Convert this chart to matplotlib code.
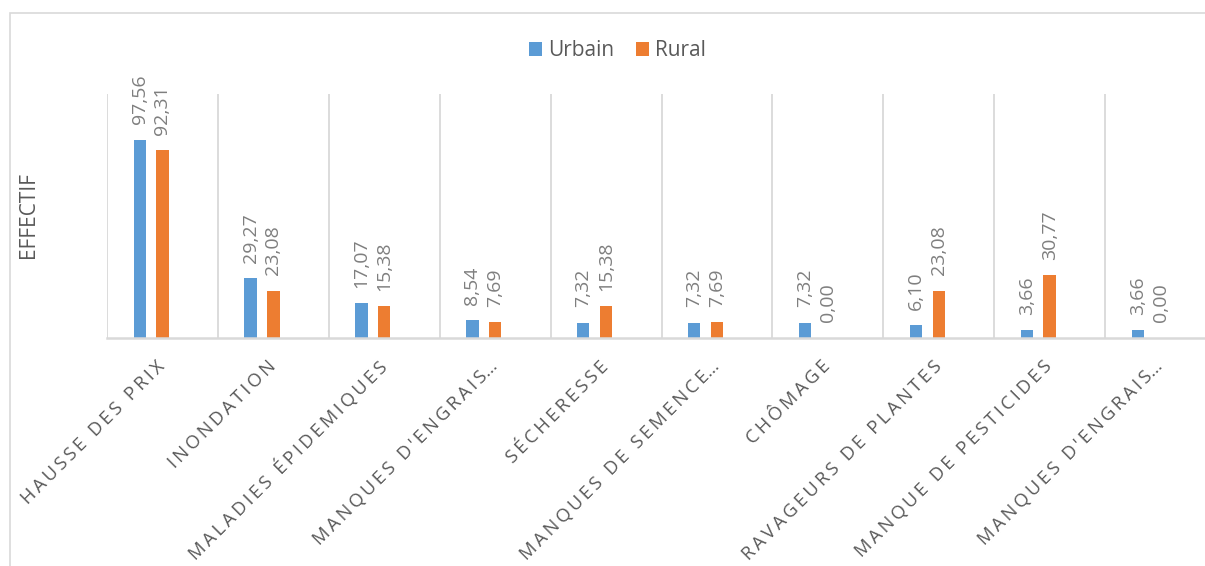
import matplotlib
matplotlib.use("Agg")
import matplotlib.pyplot as plt
from matplotlib.patches import Patch, Rectangle
import numpy as np

plt.rcParams['font.family'] = ['Open Sans', 'DejaVu Sans']

categories = ["HAUSSE DES PRIX", "INONDATION", "MALADIES ÉPIDEMIQUES",
              "MANQUES D'ENGRAIS…", "SÉCHERESSE", "MANQUES DE SEMENCE…",
              "CHÔMAGE", "RAVAGEURS DE PLANTES", "MANQUE DE PESTICIDES",
              "MANQUES D'ENGRAIS…"]
urbain = [97.56, 29.27, 17.07, 8.54, 7.32, 7.32, 7.32, 6.10, 3.66, 3.66]
rural = [92.31, 23.08, 15.38, 7.69, 15.38, 7.69, 0.00, 23.08, 30.77, 0.00]
series_names = ["Urbain", "Rural"]
colors = ["#5B9BD5", "#ED7D31"]

W, H = 1205, 566
fig = plt.figure(figsize=(W / 100, H / 100), dpi=100)

# outer chart border (clipped by figure edges)
fig.patches.append(Rectangle((10 / W, -0.2), 2.0, 0.9776 + 0.2,
                             transform=fig.transFigure, fill=False,
                             edgecolor="#d9d9d9", lw=1.2))

ax = fig.add_axes([107 / W, 0.4037, 1109 / W, 0.4302])
x = np.arange(len(categories))
bw = 0.111
offsets = [-0.205, 0.0]
grey = "#7F7F7F"
for vals, off, c in zip([urbain, rural], offsets, colors):
    ax.bar(x + off, vals, width=bw, color=c, zorder=3)
    for xi, v in zip(x, vals):
        ax.annotate(f"{v:.2f}".replace(".", ","), (xi + off, v),
                    xytext=(0, 11), textcoords="offset points",
                    rotation=90, ha="center", va="bottom",
                    fontsize=14, color=grey)

ax.set_xlim(-0.5, len(categories) - 0.5)
ax.set_ylim(0, 120)
ax.set_yticks([])
ax.set_xticks(np.arange(len(categories) + 1) - 0.5, minor=True)
ax.set_xticks([])
ax.grid(True, which="minor", axis="x", color="#d9d9d9", lw=1.3, zorder=0)
ax.tick_params(which="both", length=0)
for s in ["top", "right", "left"]:
    ax.spines[s].set_visible(False)
ax.spines["bottom"].set_color("#d9d9d9")
ax.spines["bottom"].set_linewidth(1.8)
ax.spines["bottom"].set_zorder(4)


def spaced(s):
    core = s.rstrip("…")
    tail = s[len(core):]
    return "\u2009".join(core) + tail


for xi, lab in zip(x, categories):
    ax.annotate(spaced(lab), (xi, 0), xytext=(0, -19),
                textcoords="offset points", xycoords="data",
                rotation=45, rotation_mode="anchor", ha="right", va="center",
                fontsize=13.3, color="#595959", annotation_clip=False)

fig.text(29 / W, 1 - 215.5 / H, "EFFECTIF", rotation=90,
         ha="center", va="center", fontsize=15, color="#595959")

handles = [Patch(facecolor=c, edgecolor="none") for c in colors]
fig.legend(handles, series_names, loc="center", bbox_to_anchor=(617.5 / W, 1 - 50.7 / H),
           ncol=2, frameon=False, fontsize=15, handlelength=0.65, handleheight=0.65,
           handletextpad=0.3, columnspacing=1.0, labelcolor="#595959")

fig.savefig("out.png", dpi=100, facecolor="white")
